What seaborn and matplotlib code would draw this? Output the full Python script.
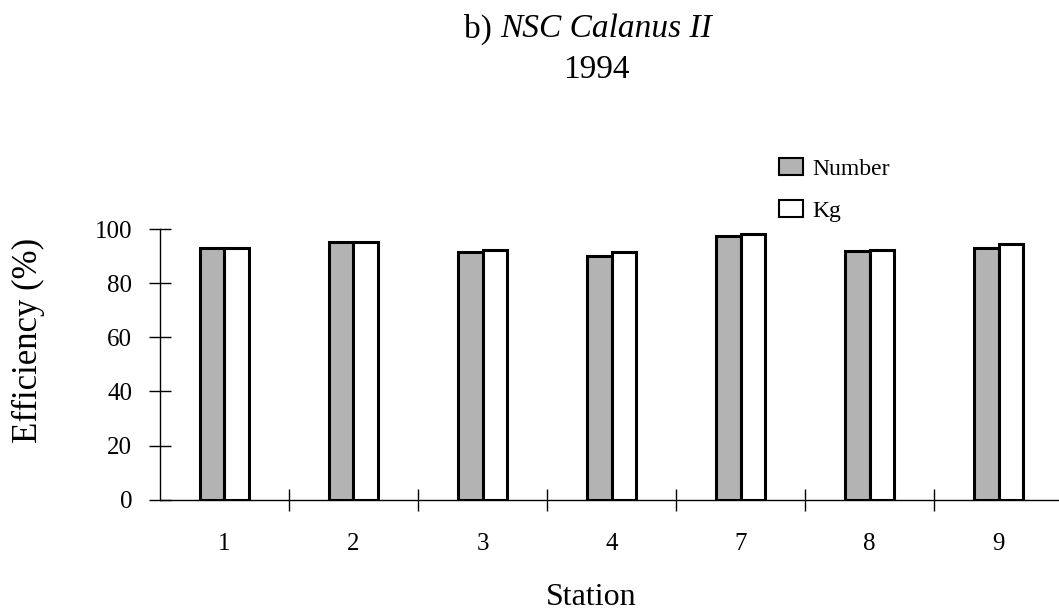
import matplotlib
matplotlib.use("Agg")
import matplotlib.pyplot as plt
import seaborn as sns
import pandas as pd
from matplotlib.patches import Patch
from matplotlib.ticker import FixedLocator

stations = ["1", "2", "3", "4", "7", "8", "9"]
number_vals = [92.9, 95.1, 91.5, 90.1, 97.4, 91.9, 92.9]
kg_vals = [93.1, 95.1, 92.4, 91.4, 98.0, 92.1, 94.5]
series = ["Number", "Kg"]
colors = {"Number": "#b3b3b3", "Kg": "#ffffff"}

df = pd.DataFrame({
    "Station": stations * 2,
    "Efficiency": number_vals + kg_vals,
    "Measure": ["Number"] * len(stations) + ["Kg"] * len(stations),
})

sns.set_theme(style="white")
plt.rcParams["font.family"] = ["Liberation Serif", "DejaVu Serif"]
plt.rcParams.update({"text.color": "black", "axes.labelcolor": "black",
                     "xtick.color": "black", "ytick.color": "black"})

fig = plt.figure(figsize=(10.59, 6.14), dpi=100)
ax = fig.add_axes([0.151, 0.186, 0.853, 0.441])

sns.barplot(data=df, x="Station", y="Efficiency", hue="Measure",
            hue_order=series, palette=colors, order=stations,
            edgecolor="black", linewidth=2.2, width=0.38, gap=0,
            legend=False, ax=ax)

ax.set_xlim(-0.5, 6.5)
ax.set_ylim(0, 100)
ax.set_yticks([0, 20, 40, 60, 80, 100])
ax.tick_params(axis="y", labelsize=18)
ax.xaxis.set_minor_locator(FixedLocator([0.5, 1.5, 2.5, 3.5, 4.5, 5.5]))
ax.tick_params(axis="x", which="major", length=0, labelsize=18, pad=24)
ax.tick_params(axis="x", which="minor", direction="inout", length=16, width=1, color="black", bottom=True)
ax.tick_params(axis="y", direction="inout", length=16, width=1, color="black", left=True, pad=12)
for s in ["top", "right"]:
    ax.spines[s].set_visible(False)
for s in ["left", "bottom"]:
    ax.spines[s].set_color("black")
    ax.spines[s].set_linewidth(1.0)

ax.set_xlabel("Station", fontsize=23)
ax.set_ylabel("Efficiency (%)", fontsize=25)
ax.xaxis.set_label_coords(0.477, -0.36)
ax.yaxis.set_label_coords(-0.145, 0.59)
ax.xaxis.label.set_va("center")
ax.yaxis.label.set_va("center")

fig.text(0.472, 1 - 29 / 614, "b) ", fontsize=24, ha="right", va="center")
fig.text(0.472, 1 - 29 / 614, "NSC Calanus II", fontsize=24, style="italic", ha="left", va="center")
fig.text(596 / 1059, 1 - 70 / 614, "1994", fontsize=24, ha="center", va="center")

handles = [Patch(facecolor=colors[s], edgecolor="black", linewidth=1.5, label=s) for s in series]
fig.legend(handles=handles, loc="upper left", bbox_to_anchor=(779 / 1059, 1 - 158 / 614),
           frameon=False, fontsize=17, handlelength=1.0, handleheight=0.75,
           handletextpad=0.4, labelspacing=0.85, borderpad=0, borderaxespad=0)

fig.savefig("out.png", dpi=100)
